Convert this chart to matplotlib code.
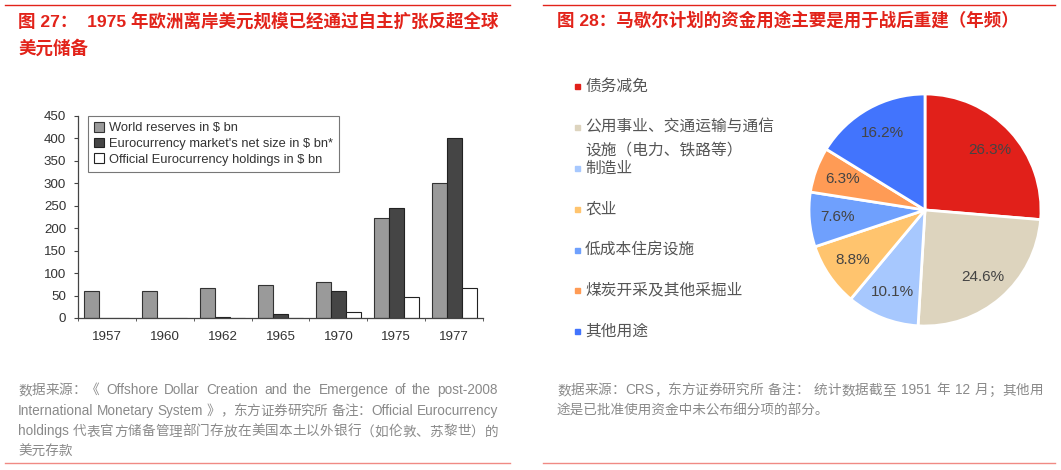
import re
import numpy as np
import matplotlib
matplotlib.use("Agg")
from matplotlib import pyplot as plt
from matplotlib.patches import Rectangle
from matplotlib.lines import Line2D

FAM = ['Liberation Sans', 'Noto Sans CJK SC', 'DejaVu Sans']
plt.rcParams['font.family'] = FAM

# left chart data
years = ['1957', '1960', '1962', '1965', '1970', '1975', '1977']
world_reserves = [60, 60, 66, 74, 81, 223, 300]
euro_net_size = [1, 1, 3, 8, 60, 245, 400]
official_holdings = [0, 0, 0, 0, 14, 46, 66]
bar_legend = ['World reserves in $ bn',
              "Eurocurrency market's net size in $ bn*",
              'Official Eurocurrency holdings in $ bn']

# right chart data
uses = ['债务减免', '公用事业、交通运输与通信\n设施（电力、铁路等）', '制造业', '农业',
        '低成本住房设施', '煤炭开采及其他采掘业', '其他用途']
shares = [26.3, 24.6, 10.1, 8.8, 7.6, 6.3, 16.2]
pie_colors = ['#E1201A', '#DDD4BE', '#A7C8FE', '#FFC46E', '#6FA0FD', '#FF9B55', '#4274FD']

W, H = 1061, 470
fig = plt.figure(figsize=(W / 100, H / 100), dpi=100)
renderer = fig.canvas.get_renderer()


def fx(px):
    return px / W


def fy(py):
    return 1 - py / H


red = '#E2231A'
foot = '#8a8a8a'


def text_w(s, size):
    t = fig.text(0, 0, s, fontsize=size)
    w = t.get_window_extent(renderer).width
    t.remove()
    return w


def justified(s, x0, x1, y, size, color):
    # spread the line from x0 to x1 (pixels), like the justified text of the report
    units = re.findall(r"[A-Za-z0-9\-\.'$]+| +|.", s)
    sp = text_w('a a', size) - text_w('aa', size)
    widths = [sp * len(u) if u.strip() == '' else text_w(u, size) for u in units]
    free = x1 - x0 - sum(widths)
    n_sp = sum(1 for u in units if u.strip() == '')
    n_solid = sum(1 for u in units if u.strip() != '')
    # wide gaps go between words; if there are few spaces or too little room,
    # share the difference over all characters instead
    on_spaces = n_sp >= 3 and free > 0
    extra = free / n_sp if on_spaces else free / max(n_solid - 1, 1)
    x = x0
    for u, w in zip(units, widths):
        if u.strip() == '':
            x += w + (extra if on_spaces else 0)
            continue
        fig.text(fx(x), fy(y), u, fontsize=size, color=color, va='center')
        x += w + (0 if on_spaces else extra)


# frame lines
fig.add_artist(Line2D([fx(5), fx(510)], [fy(5), fy(5)], color=red, lw=1.0))
fig.add_artist(Line2D([fx(543), fx(1055)], [fy(5), fy(5)], color=red, lw=1.0))
fig.add_artist(Line2D([fx(5), fx(510)], [fy(463), fy(463)], color='#F08A84', lw=1.0))
fig.add_artist(Line2D([fx(543), fx(1055)], [fy(463), fy(463)], color='#F08A84', lw=1.0))

# titles
fig.text(fx(18), fy(21), '图 27：  1975 年欧洲离岸美元规模已经通过自主扩张反超全球',
         color=red, fontsize=12.6, fontweight='bold', va='center')
fig.text(fx(18), fy(48), '美元储备', color=red, fontsize=12.6, fontweight='bold', va='center')
fig.text(fx(557), fy(20), '图 28：马歇尔计划的资金用途主要是用于战后重建（年频）',
         color=red, fontsize=12.6, fontweight='bold', va='center')

# footnotes
fs = 9.8
left_notes = ['数据来源：《 Offshore Dollar Creation and the Emergence of the post-2008',
              'International Monetary System 》，东方证券研究所 备注：Official Eurocurrency',
              'holdings 代表官方储备管理部门存放在美国本土以外银行（如伦敦、苏黎世）的',
              '美元存款']
for i in range(3):
    justified(left_notes[i], 18, 498, 390 + 20.7 * i, fs, foot)
fig.text(fx(18), fy(452.1), left_notes[3], color=foot, fontsize=fs, va='center')
right_notes = ['数据来源：CRS，东方证券研究所 备注： 统计数据截至 1951 年 12 月；其他用',
               '途是已批准使用资金中未公布细分项的部分。']
justified(right_notes[0], 557, 1043, 390, fs, foot)
fig.text(fx(557), fy(410.7), right_notes[1], color=foot, fontsize=fs, va='center')

# bar chart
ax = fig.add_axes([fx(78), fy(318), fx(483) - fx(78), fy(116) - fy(318)])
x = np.arange(len(years))
bw = 0.26
ax.bar(x - bw, world_reserves, bw, color='#9a9a9a', edgecolor='#333333', lw=0.8,
       label=bar_legend[0])
ax.bar(x, euro_net_size, bw, color='#454545', edgecolor='#222222', lw=0.8,
       label=bar_legend[1])
ax.bar(x + bw, official_holdings, bw, color='white', edgecolor='#222222', lw=0.8,
       label=bar_legend[2])
ax.set_xlim(-0.5, len(years) - 0.5)
ax.set_ylim(0, 450)
ax.set_yticks(range(0, 451, 50))
ax.set_xticks(x)
ax.set_xticklabels(years)
ax.set_xticks(np.arange(-0.5, len(years)), minor=True)
ax.tick_params(axis='x', which='major', length=0, pad=9)
ax.tick_params(axis='x', which='minor', length=2.5, direction='out', color='#444444')
ax.tick_params(axis='y', length=3, color='#444444', pad=5.5)
for lab in ax.get_xticklabels() + ax.get_yticklabels():
    lab.set_fontsize(9.6)
    lab.set_color('#333333')
for s in ['top', 'right']:
    ax.spines[s].set_visible(False)
for s in ['left', 'bottom']:
    ax.spines[s].set_color('#444444')
    ax.spines[s].set_linewidth(0.9)
ax.set_facecolor('none')
leg = ax.legend(loc='upper left', bbox_to_anchor=(0.025, 1.0), frameon=True, fancybox=False,
                prop={'size': 9.3}, handlelength=0.8, handleheight=0.8, handletextpad=0.35,
                labelspacing=0.26, borderpad=0.45, borderaxespad=0)
leg.get_frame().set_edgecolor('#555555')
leg.get_frame().set_linewidth(0.8)
for t in leg.get_texts():
    t.set_color('#333333')

# pie chart
R = 116
pax = fig.add_axes([fx(925 - 125), fy(210 + 125), fx(250), 250 / H])
wedges, texts, autotexts = pax.pie(shares, colors=pie_colors, startangle=90, counterclock=False,
                                   radius=R / 125, autopct='%.1f%%', pctdistance=0.76,
                                   wedgeprops={'edgecolor': 'white', 'linewidth': 2},
                                   textprops={'color': '#444444', 'fontsize': 11})
pax.set_xlim(-1, 1)
pax.set_ylim(-1, 1)
pax.set_aspect('equal')
pax.axis('off')

# pie legend (manual, one marker per category)
leg_y = [86, 127, 168, 209, 250, 290, 331]
for i, (name, c) in enumerate(zip(uses, pie_colors)):
    fig.add_artist(Rectangle((fx(574.5), fy(leg_y[i] + 3)), fx(5.5), 5.5 / H, color=c,
                             transform=fig.transFigure))
    lines = name.split('\n')
    for j, ln in enumerate(lines):
        fig.text(fx(585), fy(leg_y[i] + 23 * j), ln, color='#555555', fontsize=11.3,
                 va='center')

fig.savefig('out.png', dpi=100)
